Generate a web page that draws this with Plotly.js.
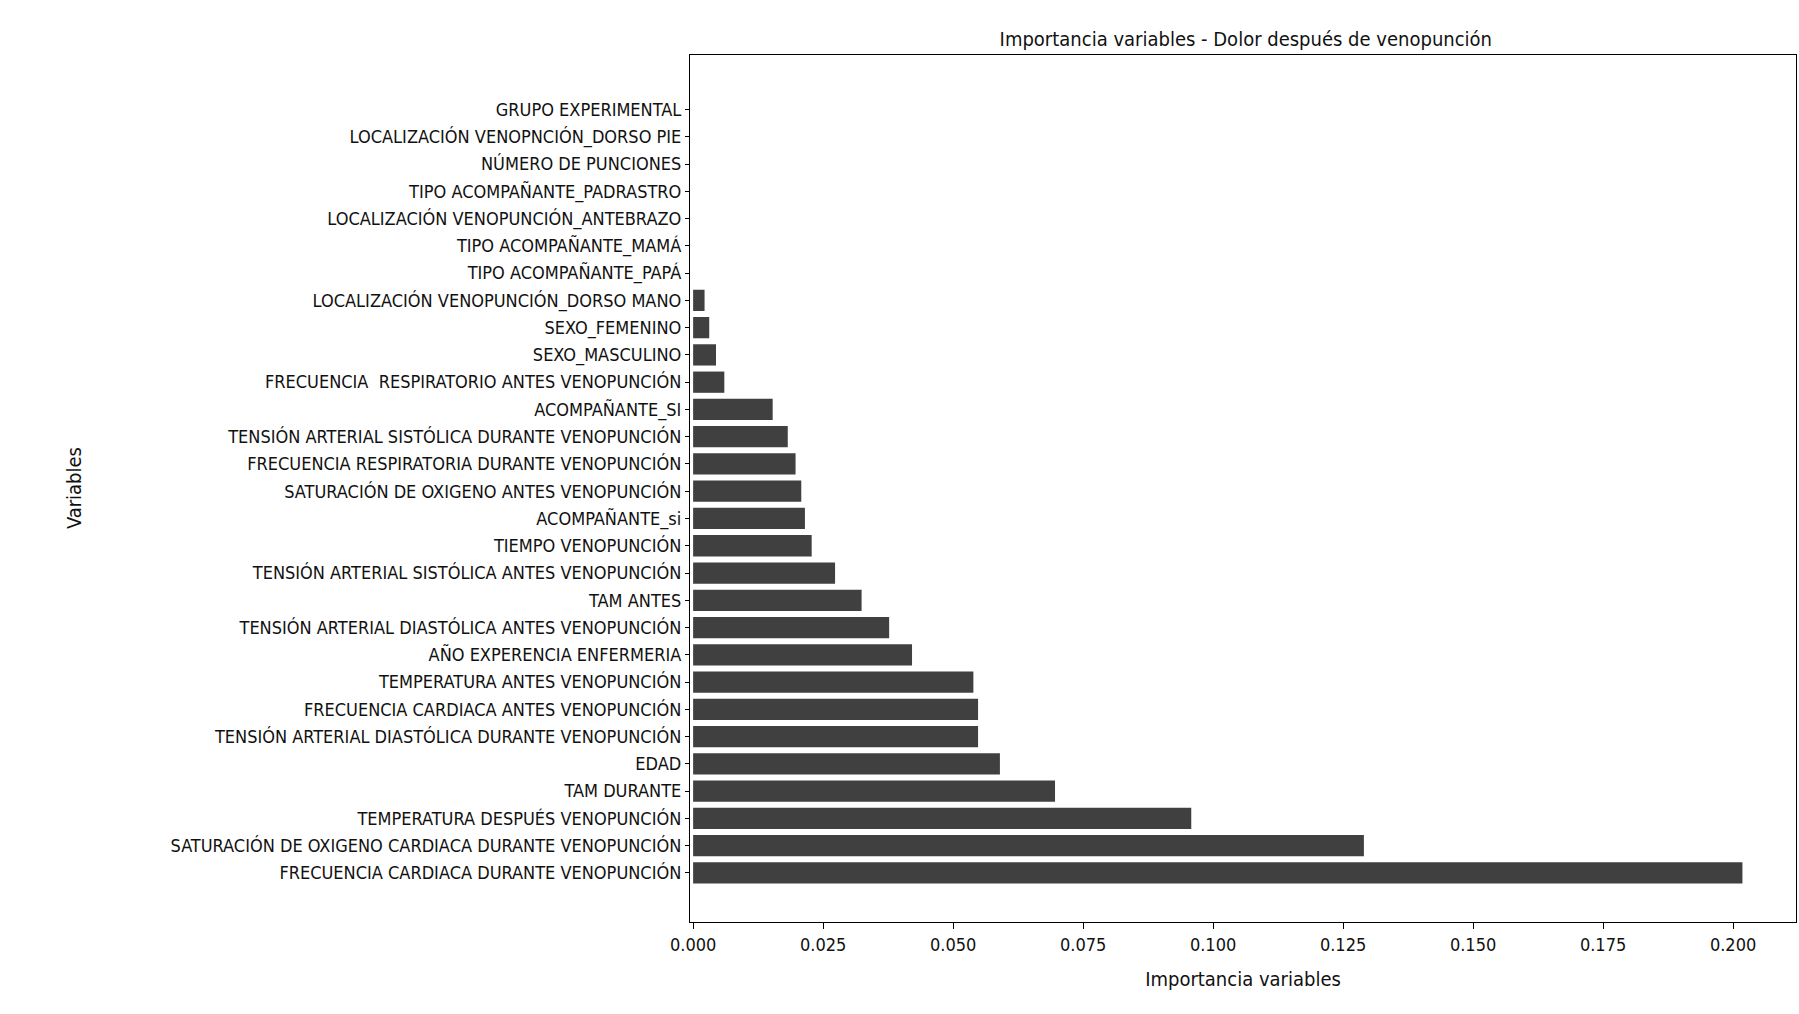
<!DOCTYPE html>
<html>
<head>
<meta charset="utf-8">
<script src="https://cdn.plot.ly/plotly-3.0.1.min.js"></script>
<style>body{margin:0;background:#fff;}#plot{width:1799px;height:1014px;}</style>
</head>
<body>
<div id="plot"></div>
<script>
// Variables, bottom to top
let variables = [
  "FRECUENCIA CARDIACA DURANTE VENOPUNCIÓN",
  "SATURACIÓN DE OXIGENO CARDIACA DURANTE VENOPUNCIÓN",
  "TEMPERATURA DESPUÉS VENOPUNCIÓN",
  "TAM DURANTE",
  "EDAD",
  "TENSIÓN ARTERIAL DIASTÓLICA DURANTE VENOPUNCIÓN",
  "FRECUENCIA CARDIACA ANTES VENOPUNCIÓN",
  "TEMPERATURA ANTES VENOPUNCIÓN",
  "AÑO EXPERENCIA ENFERMERIA",
  "TENSIÓN ARTERIAL DIASTÓLICA ANTES VENOPUNCIÓN",
  "TAM ANTES",
  "TENSIÓN ARTERIAL SISTÓLICA ANTES VENOPUNCIÓN",
  "TIEMPO VENOPUNCIÓN",
  "ACOMPAÑANTE_si",
  "SATURACIÓN DE OXIGENO ANTES VENOPUNCIÓN",
  "FRECUENCIA RESPIRATORIA DURANTE VENOPUNCIÓN",
  "TENSIÓN ARTERIAL SISTÓLICA DURANTE VENOPUNCIÓN",
  "ACOMPAÑANTE_SI",
  "FRECUENCIA  RESPIRATORIO ANTES VENOPUNCIÓN",
  "SEXO_MASCULINO",
  "SEXO_FEMENINO",
  "LOCALIZACIÓN VENOPUNCIÓN_DORSO MANO",
  "TIPO ACOMPAÑANTE_PAPÁ",
  "TIPO ACOMPAÑANTE_MAMÁ",
  "LOCALIZACIÓN VENOPUNCIÓN_ANTEBRAZO",
  "TIPO ACOMPAÑANTE_PADRASTRO",
  "NÚMERO DE PUNCIONES",
  "LOCALIZACIÓN VENOPNCIÓN_DORSO PIE",
  "GRUPO EXPERIMENTAL"
];
let importance = [
  0.2018, 0.129, 0.0958, 0.0696, 0.059, 0.0548, 0.0548, 0.0539, 0.0421,
  0.0377, 0.0324, 0.0273, 0.0228, 0.0215, 0.0208, 0.0197, 0.0182, 0.0153,
  0.006, 0.0044, 0.0031, 0.0022, 0, 0, 0, 0, 0, 0, 0
];
let xticks = [0, 0.025, 0.05, 0.075, 0.1, 0.125, 0.15, 0.175, 0.2];

let fontFam = "'Liberation Sans Narrow', 'DejaVu Sans Condensed', 'Liberation Sans', sans-serif";

let data = [{
  type: 'bar',
  orientation: 'h',
  x: importance,
  y: variables.map((v, i) => i),
  width: 0.78,
  marker: {color: '#404040'},
  hoverinfo: 'x+text',
  text: variables,
  textposition: 'none'
}];

let layout = {
  width: 1799,
  height: 1014,
  paper_bgcolor: '#fff',
  plot_bgcolor: '#fff',
  font: {family: fontFam, size: 18, color: '#111'},
  title: {text: 'Importancia variables - Dolor después de venopunción', x: 0.6925, xanchor: 'center', y: 0.968, font: {size: 20}},
  margin: {l: 690, r: 3, t: 55, b: 92},
  xaxis: {
    title: {text: 'Importancia variables', font: {size: 20}, standoff: 18},
    range: [-0.0006, 0.2121],
    tickmode: 'array',
    tickvals: xticks,
    ticktext: xticks.map(v => v.toFixed(3)),
    ticks: 'outside', ticklen: 6, tickcolor: '#000',
    showline: true, linecolor: '#000', linewidth: 1.2, mirror: true,
    showgrid: false, zeroline: false
  },
  yaxis: {
    title: {text: 'Variables', font: {size: 20}, standoff: 0},
    range: [-1.8, 30.0],
    tickmode: 'array',
    tickvals: variables.map((v, i) => i),
    ticktext: variables,
    ticks: 'outside', ticklen: 4, tickcolor: '#000',
    showline: true, linecolor: '#000', linewidth: 1.2, mirror: true,
    showgrid: false, zeroline: false
  },
  showlegend: false,
  annotations: [{
    text: 'Variables', xref: 'paper', yref: 'paper', x: -0.57, y: 0.5,
    showarrow: false, textangle: -90, font: {size: 20}
  }]
};
layout.yaxis.title.text = '';

Plotly.newPlot('plot', data, layout, {displayModeBar: false});
</script>
</body>
</html>
